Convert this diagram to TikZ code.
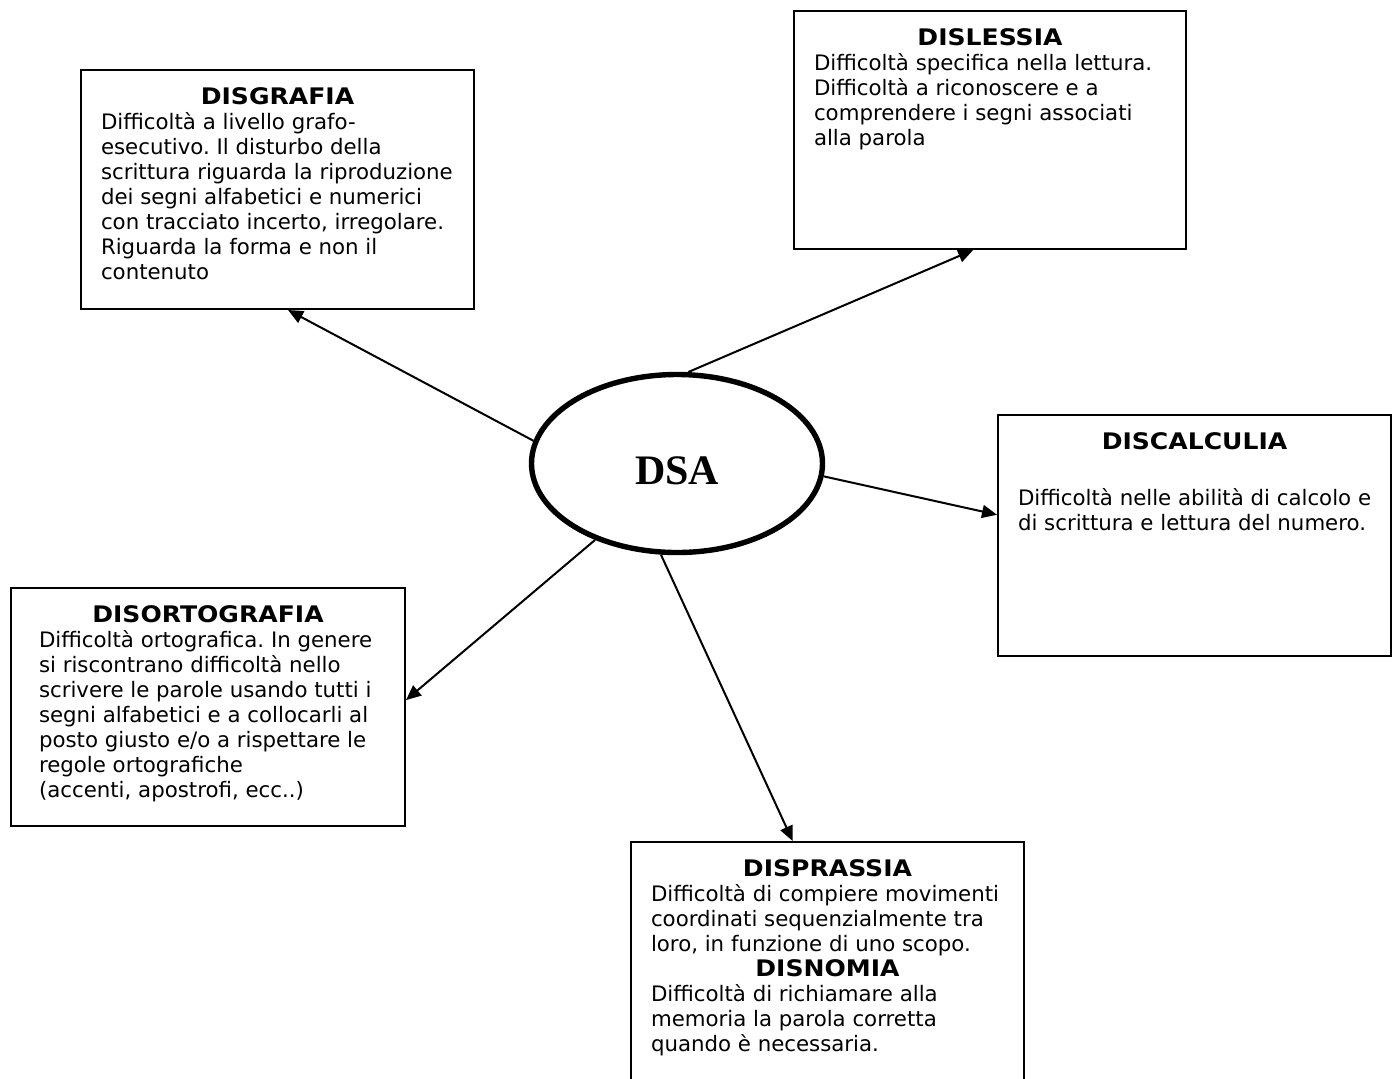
\documentclass[tikz,border=0pt]{standalone}
\usepackage{fontspec}
\setmainfont{DejaVu Sans}
\newfontfamily\titolofont{DejaVu Sans}[FakeStretch=1.1]
\newfontfamily\dsafont{Liberation Serif}
\usetikzlibrary{arrows.meta,shapes.geometric}
\frenchspacing
\newcommand{\titolo}[1]{{\titolofont\bfseries\fontsize{11.4}{12.5}\selectfont #1}}
\newcommand{\scheda}[5][10pt]{\parbox[t][#3][t]{#2}{\fontsize{10.65}{12.5}\selectfont
 {\centering\rule{0pt}{17pt}\titolo{#4}\par}
 \leftskip=#1\rightskip=0pt plus 1fil\hyphenpenalty=10000 #5}}

\begin{document}
\begin{tikzpicture}[x=0.5pt,y=-0.5pt,
 box/.style={draw,line width=1pt,anchor=north west,inner sep=0pt},
 freccia/.style={line width=1pt,-{Triangle[length=7.5pt,width=6.5pt]}}]
\path[use as bounding box,fill=white] (0,0) rectangle (1396,1078);
\node[ellipse,draw,line width=2.7pt,minimum width=145.5pt,minimum height=89pt,inner sep=0pt,
 text height=21.3pt,text depth=0pt] (dsa) at (677,463.5)
 {\dsafont\bfseries\fontsize{21}{21}\selectfont DSA};
\node[box] (disgrafia) at (80,69) {\scheda{196.5pt}{119.5pt}{DISGRAFIA}{Difficoltà a livello grafo-\\
 esecutivo. Il disturbo della\\
 scrittura riguarda la riproduzione\\
 dei segni alfabetici e numerici\\
 con tracciato incerto, irregolare.\\
 Riguarda la forma e non il\\
 contenuto}};
\node[box] (dislessia) at (793,10) {\scheda{196pt}{119pt}{DISLESSIA}{Difficoltà specifica nella lettura.\\
 Difficoltà a riconoscere e a\\
 comprendere i segni associati\\
 alla parola}};
\node[box] (discalculia) at (997,414) {\scheda{196.5pt}{120.5pt}{DISCALCULIA}{\vspace*{15.5pt}
 Difficoltà nelle abilità di calcolo e\\
 di scrittura e lettura del numero.}};
\node[box] (disortografia) at (10,587) {\scheda[14pt]{197pt}{119pt}{DISORTOGRAFIA}{Difficoltà ortografica. In genere\\
 si riscontrano difficoltà nello\\
 scrivere le parole usando tutti i\\
 segni alfabetici e a collocarli al\\
 posto giusto e/o a rispettare le\\
 regole ortografiche\\
 (accenti, apostrofi, ecc..)}};
\node[box] (disprassia) at (630,841) {\scheda{196.5pt}{129pt}{DISPRASSIA}{Difficoltà di compiere movimenti\\
 coordinati sequenzialmente tra\\
 loro, in funzione di uno scopo.\par
 {\centering\titolo{DISNOMIA}\par}
 Difficoltà di richiamare alla\\
 memoria la parola corretta\\
 quando è necessaria.}};
\foreach \da/\verso/\a in {171.7/disgrafia/275.4,83.9/dislessia/262.1,355.6/discalculia/174.1,
 223.1/disortografia/2.6,260.9/disprassia/105.1}
 \draw[freccia] (dsa.\da) -- (\verso.\a);
\end{tikzpicture}
\end{document}
